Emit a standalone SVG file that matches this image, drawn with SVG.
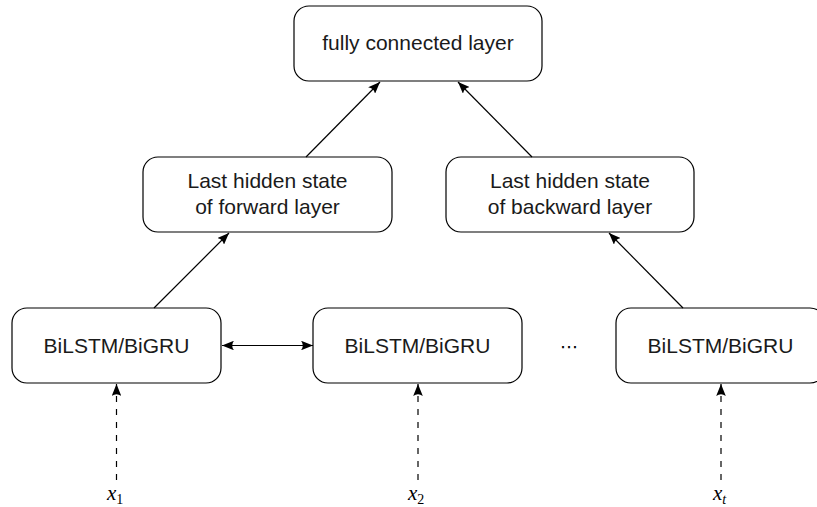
<svg xmlns="http://www.w3.org/2000/svg" width="817" height="507" viewBox="0 0 817 507">
  <style>
    .box { fill: #ffffff; stroke: #000000; stroke-width: 1.2; }
    .lbl { font-family: "Liberation Sans", "DejaVu Sans", Arial, sans-serif; font-size: 21px; fill: #1a1a1a; text-anchor: middle; }
    .edge { stroke: #000000; stroke-width: 1.2; fill: none; }
    .dash { stroke-dasharray: 6 7; }
    .var { font-family: "Liberation Serif", "Times New Roman", serif; font-style: italic; font-size: 21px; fill: #000000; }
    .sub { font-style: normal; font-size: 14px; }
    .subi { font-style: italic; font-size: 14px; }
  </style>
  <defs>
    <marker id="tip" viewBox="0 0 10 8" markerUnits="userSpaceOnUse" markerWidth="12" markerHeight="9.6" refX="10" refY="4" orient="auto-start-reverse">
      <path d="M0,0 Q3,4 0,8 L10,4 Z" fill="#000000"/>
    </marker>
  </defs>

  <!-- output layer -->
  <g id="fc">
    <rect class="box" x="294" y="6" width="248" height="75" rx="15"/>
    <text class="lbl" x="418" y="50">fully connected layer</text>
  </g>

  <!-- final hidden states -->
  <g id="fwd">
    <rect class="box" x="143" y="157" width="249" height="75" rx="15"/>
    <text class="lbl" x="267.5" y="188">Last hidden state</text>
    <text class="lbl" x="267.5" y="214">of forward layer</text>
  </g>
  <g id="bwd">
    <rect class="box" x="446" y="157" width="248" height="75" rx="15"/>
    <text class="lbl" x="570" y="188">Last hidden state</text>
    <text class="lbl" x="570" y="214">of backward layer</text>
  </g>

  <!-- recurrent cells -->
  <g id="cell1">
    <rect class="box" x="12" y="308" width="209" height="75" rx="15"/>
    <text class="lbl" x="116.5" y="353">BiLSTM/BiGRU</text>
  </g>
  <g id="cell2">
    <rect class="box" x="313" y="308" width="209" height="75" rx="15"/>
    <text class="lbl" x="417.5" y="353">BiLSTM/BiGRU</text>
  </g>
  <g id="dots">
    <text x="569" y="353" font-family="DejaVu Sans, sans-serif" font-size="18" text-anchor="middle">⋯</text>
  </g>
  <g id="cellT">
    <rect class="box" x="616" y="308" width="209" height="75" rx="15"/>
    <text class="lbl" x="720.5" y="353">BiLSTM/BiGRU</text>
  </g>

  <!-- inputs -->
  <g id="in1">
    <text class="var" x="107" y="500">x<tspan class="sub" dy="4">1</tspan></text>
  </g>
  <g id="in2">
    <text class="var" x="408" y="500">x<tspan class="sub" dy="4">2</tspan></text>
  </g>
  <g id="inT">
    <text class="var" x="713" y="500">x<tspan class="subi" dy="4">t</tspan></text>
  </g>

  <!-- connectors -->
  <g id="edges">
    <line class="edge" x1="154" y1="308" x2="229" y2="233" marker-end="url(#tip)"/>
    <line class="edge" x1="683" y1="308" x2="609" y2="233" marker-end="url(#tip)"/>
    <line class="edge" x1="306" y1="157" x2="380" y2="82" marker-end="url(#tip)"/>
    <line class="edge" x1="532" y1="157" x2="458" y2="82" marker-end="url(#tip)"/>
    <line class="edge" x1="222" y1="345.5" x2="313" y2="345.5" marker-start="url(#tip)" marker-end="url(#tip)"/>
    <line class="edge dash" x1="116.5" y1="480" x2="116.5" y2="384" marker-end="url(#tip)"/>
    <line class="edge dash" x1="418" y1="480" x2="418" y2="384" marker-end="url(#tip)"/>
    <line class="edge dash" x1="721" y1="480" x2="721" y2="384" marker-end="url(#tip)"/>
  </g>
</svg>
